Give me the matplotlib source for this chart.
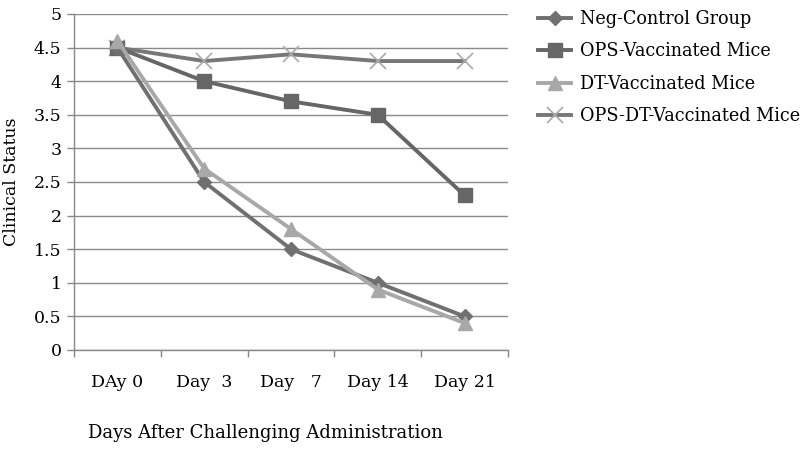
import matplotlib
matplotlib.use("Agg")
import matplotlib.pyplot as plt
import numpy as np

categories = ["DAy 0", "Day  3", "Day   7", "Day 14", "Day 21"]
neg_control = [4.5, 2.5, 1.5, 1.0, 0.5]
ops_vacc = [4.5, 4.0, 3.7, 3.5, 2.3]
dt_vacc = [4.6, 2.7, 1.8, 0.9, 0.4]
ops_dt_vacc = [4.5, 4.3, 4.4, 4.3, 4.3]
y_ticks = [0, 0.5, 1, 1.5, 2, 2.5, 3, 3.5, 4, 4.5, 5]
y_tick_labels = ["0", "0.5", "1", "1.5", "2", "2.5", "3", "3.5", "4", "4.5", "5"]

plt.rcParams['font.family'] = ['DejaVu Serif']

fig = plt.figure(figsize=(8.08, 4.55), dpi=100)
ax = fig.add_axes([74/808, 1-350/455, (508-74)/808, (350-14)/455])

x = np.arange(len(categories))
lw = 2.8
ax.plot(x, neg_control, color="#707070", lw=lw, marker="D", ms=7, mfc="#707070", mec="#707070", label="Neg-Control Group", zorder=5)
ax.plot(x, ops_vacc, color="#666666", lw=lw, marker="s", ms=10, mfc="#666666", mec="#666666", label="OPS-Vaccinated Mice", zorder=4)
ax.plot(x, dt_vacc, color="#a8a8a8", lw=lw, marker="^", ms=10, mfc="#a8a8a8", mec="#a8a8a8", label="DT-Vaccinated Mice", zorder=6)
ax.plot(x, ops_dt_vacc, color="#777777", lw=lw, marker="x", ms=11, mew=1.2, mec="#aaaaaa", label="OPS-DT-Vaccinated Mice", zorder=3)

ax.set_xlim(-0.5, len(categories) - 0.5)
ax.set_ylim(0, 5)
ax.set_yticks(y_ticks)
ax.set_yticklabels(y_tick_labels)
ax.set_xticks(x)
ax.set_xticklabels(categories)
ax.set_xticks(np.arange(-0.5, len(categories)), minor=True)
ax.tick_params(axis="x", which="major", length=0, pad=17, labelsize=12.5)
ax.tick_params(axis="x", which="minor", length=5, color="#888888", width=1)
ax.tick_params(axis="y", length=5, color="#888888", width=1, pad=4, labelsize=12.5)
ax.grid(axis="y", color="#8a8a8a", lw=1)
ax.set_axisbelow(True)
for s in ["top", "right"]:
    ax.spines[s].set_visible(False)
for s in ["left", "bottom"]:
    ax.spines[s].set_color("#888888")
    ax.spines[s].set_linewidth(1)

ax.set_ylabel("Clinical Status", fontsize=12.5, labelpad=10)
fig.text(265/808, 1-433/455, "Days After Challenging Administration", ha="center", va="center", fontsize=13)

leg = ax.legend(loc="upper left", bbox_to_anchor=(522/808, 1.0 + 6/455), bbox_transform=fig.transFigure,
                frameon=False, fontsize=12.7, handlelength=1.9, labelspacing=0.82, handletextpad=0.5)

fig.savefig("out.png", dpi=100)
